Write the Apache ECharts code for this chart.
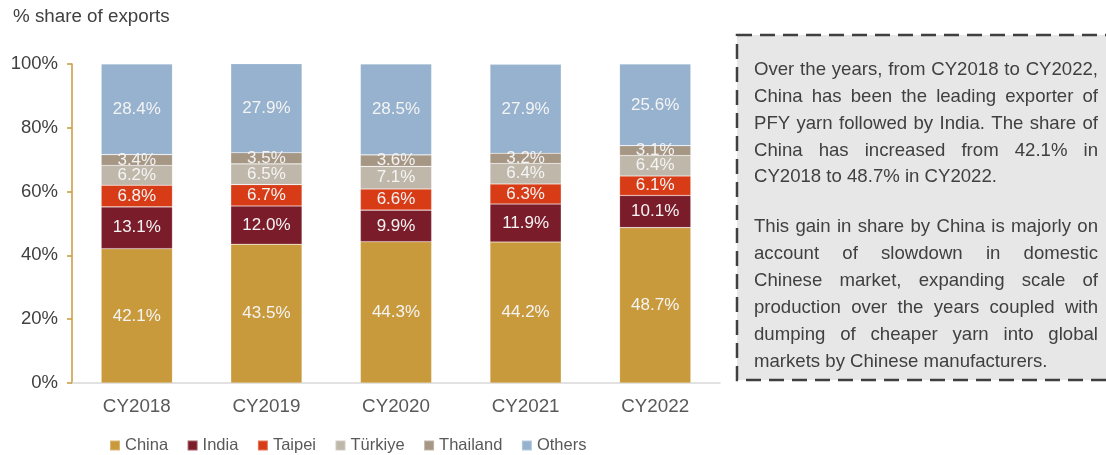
<!DOCTYPE html>
<html><head><meta charset="utf-8">
<script src="https://cdn.jsdelivr.net/npm/echarts@6/dist/echarts.min.js"></script>
<style>html,body{margin:0;padding:0;background:#fff}#c{width:1106px;height:455px}</style>
</head><body><div id="c"></div>
<script>
var categories = ['CY2018','CY2019','CY2020','CY2021','CY2022'];
var china    = [42.1, 43.5, 44.3, 44.2, 48.7];
var india    = [13.1, 12.0, 9.9, 11.9, 10.1];
var taipei   = [6.8, 6.7, 6.6, 6.3, 6.1];
var turkiye  = [6.2, 6.5, 7.1, 6.4, 6.4];
var thailand = [3.4, 3.5, 3.6, 3.2, 3.1];
var others   = [28.4, 27.9, 28.5, 27.9, 25.6];
var yTicks = [0, 20, 40, 60, 80, 100];
var para1 = [
  ['Over the years, from CY2018 to CY2022,', true],
  ['China has been the leading exporter of', true],
  ['PFY yarn followed by India. The share of', true],
  ['China has increased from 42.1% in', true],
  ['CY2018 to 48.7% in CY2022.', false]
];
var para2 = [
  ['This gain in share by China is majorly on', true],
  ['account of slowdown in domestic', true],
  ['Chinese market, expanding scale of', true],
  ['production over the years coupled with', true],
  ['dumping of cheaper yarn into global', true],
  ['markets by Chinese manufacturers.', false]
];

var chart = echarts.init(document.getElementById('c'));
var FONT = '"Liberation Sans", Arial, sans-serif';
var seriesDefs = [
  ['China', china, '#C99A3B'],
  ['India', india, '#7B1C2B'],
  ['Taipei', taipei, '#D83C17'],
  ['Türkiye', turkiye, '#BFB7AA'],
  ['Thailand', thailand, '#A69684'],
  ['Others', others, '#96B2CE']
];
var series = seriesDefs.map(function (d) {
  return {
    name: d[0], type: 'bar', stack: 's', data: d[1], barWidth: '55%',
    itemStyle: { color: d[2], borderColor: 'rgba(255,255,255,0.3)', borderWidth: 0.6 },
    label: { show: true, position: 'inside', color: '#F4F4F4', fontSize: 17, fontFamily: FONT,
      formatter: function (p) { return p.value.toFixed(1) + '%'; } },
    emphasis: { disabled: true }
  };
});

// justified text box
var ctx = document.createElement('canvas').getContext('2d');
var fs = 18.6;
ctx.font = fs + 'px ' + FONT;
var boxX = 737, boxY = 35, boxW = 380, boxH = 345;
var tx0 = 754, tx1 = 1098;
var elements = [{
  type: 'rect', shape: { x: boxX, y: boxY, width: boxW, height: boxH },
  style: { fill: '#E7E7E7', stroke: '#3F3F3F', lineWidth: 2.5, lineDash: [15, 8] }, z: 0
}];
function addLines(lines, y0, lh) {
  lines.forEach(function (ln, i) {
    var y = y0 + i * lh;
    var words = ln[0].split(' ');
    var widths = words.map(function (w) { return ctx.measureText(w).width; });
    var total = widths.reduce(function (a, b) { return a + b; }, 0);
    var space = ctx.measureText(' ').width;
    if (ln[1] && words.length > 1) space = (tx1 - tx0 - total) / (words.length - 1);
    var x = tx0;
    words.forEach(function (w, k) {
      elements.push({ type: 'text', x: x, y: y, z: 2,
        style: { text: w, font: fs + 'px ' + FONT, fill: '#404040', verticalAlign: 'middle' } });
      x += widths[k] + space;
    });
  });
}
addLines(para1, 70, 26.8);
addLines(para2, 227, 27);
elements.push({ type: 'text', x: 13, y: 17, z: 2,
  style: { text: '% share of exports', font: '18.8px ' + FONT, fill: '#404040', verticalAlign: 'middle' } });

chart.setOption({
  animation: false,
  grid: { left: 72, right: 386, top: 64, bottom: 72, containLabel: false },
  legend: {
    left: 104, top: 432, itemWidth: 10, itemHeight: 10, itemGap: 18.5, icon: 'rect',
    textStyle: { color: '#595959', fontSize: 16.5, fontFamily: FONT },
    data: seriesDefs.map(function (d) { return d[0]; })
  },
  xAxis: {
    type: 'category', data: categories,
    axisLine: { lineStyle: { color: '#D9D9D9', width: 1.5 } },
    axisTick: { show: false },
    axisLabel: { color: '#595959', fontSize: 18.8, fontFamily: FONT, margin: 14 }
  },
  yAxis: {
    type: 'value', min: 0, max: 100, interval: 20,
    axisLine: { show: true, lineStyle: { color: '#C99A3B', width: 1.5 } },
    axisTick: { show: true, length: 5, lineStyle: { color: '#C99A3B', width: 1.5 } },
    splitLine: { show: false },
    axisLabel: { color: '#404040', fontSize: 18.5, fontFamily: FONT, margin: 14,
      formatter: function (v) { return yTicks.indexOf(v) >= 0 ? v + '%' : ''; } }
  },
  series: series,
  graphic: { elements: elements }
});
</script></body></html>
